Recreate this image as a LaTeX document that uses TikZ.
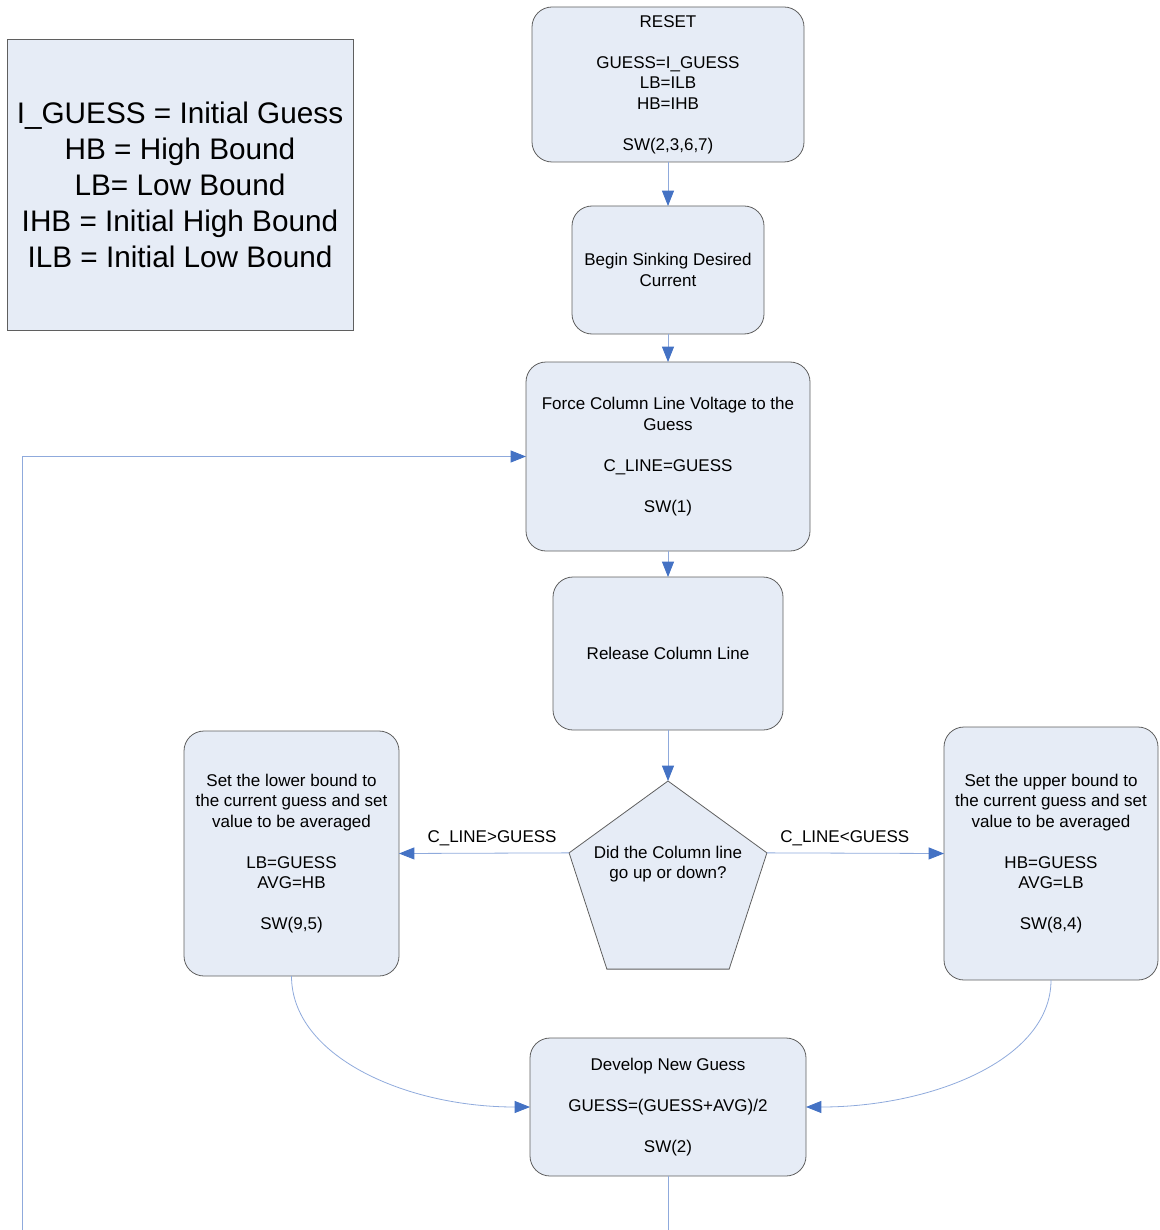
\documentclass[tikz,border=0pt]{standalone}
\usepackage{fontspec}
\setmainfont{Liberation Sans}
\usetikzlibrary{shapes.geometric,arrows.meta}
\definecolor{boxfill}{HTML}{E6ECF6}
\definecolor{boxdraw}{HTML}{5F5F5F}
\definecolor{linecol}{HTML}{8FAADC}
\definecolor{tipcol}{HTML}{4472C4}
\tikzset{
  stepbox/.style={draw=boxdraw, fill=boxfill, line width=0.6pt, rounded corners=15pt,
    align=center, inner sep=0pt, outer sep=0pt, font=\fontsize{12.75}{15.4}\selectfont},
  legendbox/.style={draw=boxdraw, fill=boxfill, line width=0.6pt,
    align=center, inner sep=0pt, outer sep=0pt, font=\fontsize{22.3}{27}\selectfont},
  decision/.style={draw=boxdraw, fill=boxfill, line width=0.6pt, regular polygon,
    regular polygon sides=5, minimum size=156pt, inner sep=0pt, outer sep=0pt},
  plaintext/.style={align=center, inner sep=0pt, font=\fontsize{12.75}{15.4}\selectfont},
  flow/.style={draw=linecol, line width=0.6pt,
    -{Triangle[length=11.5pt,width=9pt,fill=tipcol,color=tipcol]}},
}
\begin{document}
\begin{tikzpicture}[x=0.75pt,y=-0.75pt]
\useasboundingbox (0,0) rectangle (1159,1230);
\clip (0,0) rectangle (1159,1230);

\node[legendbox, minimum width=259.5pt, minimum height=218.25pt] (legend) at (180,184.5)
  {I\_GUESS = Initial Guess\\HB = High Bound\\LB= Low Bound\\IHB = Initial High Bound\\ILB = Initial Low Bound};

\node[stepbox, minimum width=204pt, minimum height=116.25pt] (reset) at (668,84.5)
  {RESET\\[15.4pt]GUESS=I\_GUESS\\LB=ILB\\HB=IHB\\[15.4pt]SW(2,3,6,7)};

\node[stepbox, minimum width=144pt, minimum height=96pt] (sink) at (668,270)
  {Begin Sinking Desired\\Current};

\node[stepbox, minimum width=213pt, minimum height=141.75pt] (force) at (668,456.5)
  {Force Column Line Voltage to the\\Guess\\[15.4pt]C\_LINE=GUESS\\[15.4pt]SW(1)};

\node[stepbox, minimum width=172.5pt, minimum height=114.75pt] (release) at (668,653.5)
  {Release Column Line};

\node[decision] (decide) at (668,885) {};
\node[plaintext] (qtext) at (668,864) {Did the Column line\\go up or down?};

\node[stepbox, minimum width=161.25pt, minimum height=183.75pt] (lower) at (291.5,853.5)
  {Set the lower bound to\\the current guess and set\\value to be averaged\\[15.4pt]LB=GUESS\\AVG=HB\\[15.4pt]SW(9,5)};

\node[stepbox, minimum width=160.5pt, minimum height=189.75pt] (upper) at (1051,853.5)
  {Set the upper bound to\\the current guess and set\\value to be averaged\\[15.4pt]HB=GUESS\\AVG=LB\\[15.4pt]SW(8,4)};

\node[stepbox, minimum width=207pt, minimum height=103.5pt] (develop) at (668,1107)
  {Develop New Guess\\[15.4pt]GUESS=(GUESS+AVG)/2\\[15.4pt]SW(2)};

\draw[flow] (reset.south) -- (sink.north);
\draw[flow] (sink.south) -- (force.north);
\draw[flow] (force.south) -- (release.north);
\draw[flow] (release.south) -- (decide.corner 1);
\draw[flow] (decide.corner 2) -- node[plaintext, above=5pt, xshift=6pt] (gtlabel) {C\_LINE>GUESS} (lower.east);
\draw[flow] (decide.corner 5) -- node[plaintext, above=5pt, xshift=-8pt] (ltlabel) {C\_LINE<GUESS} (upper.west);
\draw[flow] (lower.south) .. controls +(0,80) and +(-125,0) .. (develop.west);
\draw[flow] (upper.south) .. controls +(0,80) and +(125,0) .. (develop.east);
\coordinate (loopbr) at (668,1260);
\coordinate (loopbl) at (22,1260);
\coordinate (looptl) at (22,456.5);
\draw[flow] (develop.south) -- (loopbr) -- (loopbl) -- (looptl) -- (force.west);
\end{tikzpicture}
\end{document}
